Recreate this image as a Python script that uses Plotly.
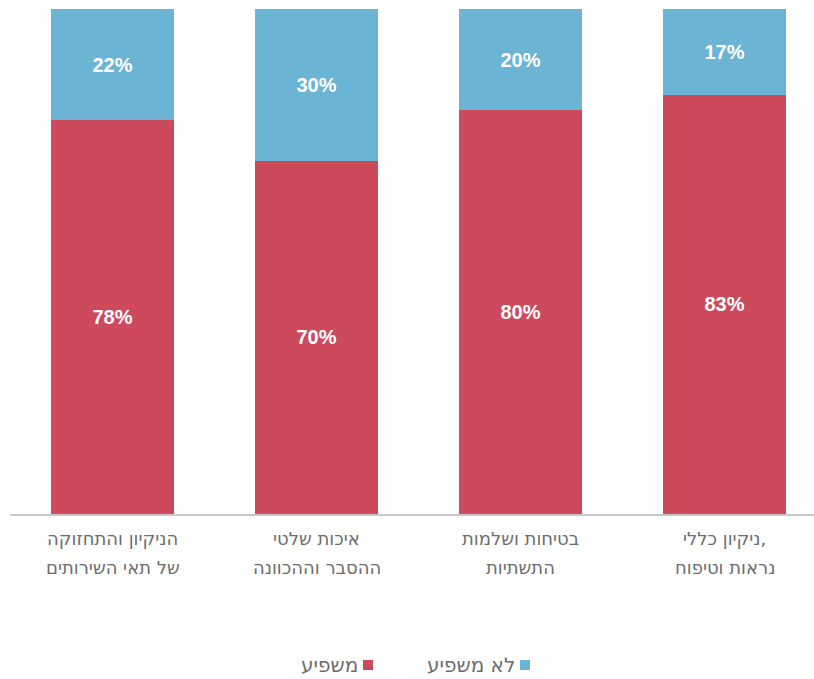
import plotly.graph_objects as go

# Categories listed right-to-left (first category is drawn on the right)
categories = [
    "ניקיון כללי, נראות וטיפוח",
    "בטיחות ושלמות התשתיות",
    "איכות שלטי ההסבר וההכוונה",
    "הניקיון והתחזוקה של תאי השירותים",
]
label_line1 = ["ניקיון כללי,", "בטיחות ושלמות", "איכות שלטי", "הניקיון והתחזוקה"]
label_line2 = ["נראות וטיפוח", "התשתיות", "ההסבר וההכוונה", "של תאי השירותים"]
affects = [83, 80, 70, 78]          # משפיע
not_affects = [17, 20, 30, 22]      # לא משפיע

series_names = ["משפיע", "לא משפיע"]
RED = "#CC4A5C"
BLUE = "#6CB4D4"
NUM_FONT = "Liberation Sans, Arial, sans-serif"
HEB_FONT = "DejaVu Sans, sans-serif"
GREY = "#6d6d6d"

fig = go.Figure()
for name, vals, col in [(series_names[0], affects, RED), (series_names[1], not_affects, BLUE)]:
    fig.add_trace(go.Bar(
        x=categories, y=vals, name=name,
        marker=dict(color=col, line=dict(width=0)),
        width=0.603,
        text=[f"{v}%" for v in vals],
        textposition="inside", insidetextanchor="middle",
        textfont=dict(family=NUM_FONT, size=20, color="white", weight="bold"),
        textangle=0,
        showlegend=False,
    ))

fig.update_layout(
    barmode="stack",
    width=814, height=679,
    margin=dict(l=10, r=0, t=9, b=165),
    paper_bgcolor="white", plot_bgcolor="white",
    xaxis=dict(
        range=[3.5025, -0.4387],
        showline=True, linecolor="#c8c8c8", linewidth=2,
        ticks="", showgrid=False, showticklabels=False,
    ),
    yaxis=dict(range=[0, 100], visible=False, showgrid=False),
)

# Two-line category labels under the axis
for cat, l1, l2 in zip(categories, label_line1, label_line2):
    for txt, ypx in [(l1, 538), (l2, 567)]:
        fig.add_annotation(text=txt, x=cat, xref="x", yref="paper",
                           y=(514 - ypx) / 505, xanchor="center", yanchor="middle",
                           showarrow=False,
                           font=dict(family=HEB_FONT, size=18, color=GREY))

# Legend drawn right-to-left: square marker to the right of each label
legend_items = [(series_names[1], BLUE, 530), (series_names[0], RED, 373)]
for name, col, xr in legend_items:
    fig.add_shape(type="rect", xref="paper", yref="paper",
                  x0=(xr - 10 - 10) / 804, x1=(xr - 10) / 804,
                  y0=(514 - 670) / 505, y1=(514 - 660) / 505,
                  fillcolor=col, line=dict(width=0))
    fig.add_annotation(text=name, xref="paper", yref="paper",
                       x=(xr - 10 - 13) / 804, y=(514 - 665) / 505,
                       xanchor="right", yanchor="middle", showarrow=False,
                       font=dict(family=HEB_FONT, size=20, color=GREY))

fig.write_html("out.html")
